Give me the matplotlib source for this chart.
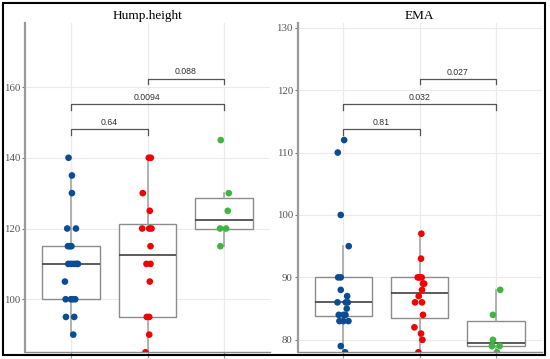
import matplotlib
matplotlib.use("Agg")
import matplotlib.pyplot as plt
from matplotlib.patches import Rectangle
import numpy as np

# ---------------- data ----------------
groups = [1, 2, 3]
colors = ["#0b4c94", "#f50000", "#3fb63f"]

hump_g1 = [140, 135, 130, 120, 120, 115, 115, 115, 110, 110, 110, 110, 110, 105, 100, 100, 100, 100, 95, 95, 90]
hump_g1_jit = [-2.4, 1, 1, -3.7, 5, -3, -1, 0.5, -2.7, 0, 2.7, 5.3, 7, -6, -5.3, 0, 2, 4.3, -5, 3.3, 2.3]
hump_g2 = [140, 140, 130, 125, 120, 120, 120, 115, 110, 110, 105, 95, 95, 90, 85, 80]
hump_g2_jit = [1.3, 3.3, -4.7, 2.3, -5.3, 1.7, 4, 3, -1, 3, 2.3, -0.7, 1.7, 1.7, -2, 0]
hump_g3 = [145, 130, 125, 120, 120, 115]
hump_g3_jit = [-3.3, 4.7, 3.7, -4, 2, -3.7]

ema_g1 = [112, 110, 100, 95, 90, 90, 88, 87, 86, 86, 86, 85, 84, 84, 84, 83, 83, 83, 79, 78]
ema_g1_jit = [0.7, -5.7, -2.7, 5.3, -5.3, -2.7, -2.7, 3.7, -6, 2.3, 4.3, 3.3, -4.7, 0, 2, -4, 0, 5, -2.7, 1.7]
ema_g2 = [97, 93, 90, 90, 90, 89, 89, 88, 87, 86, 86, 84, 82, 81, 80, 78]
ema_g2_jit = [1.7, 1.3, -2, 0, 2, 3.3, 4.5, 2.3, -1, -4.7, 2.3, 3.3, -5.3, 1.3, 2.7, -1.3]
ema_g3 = [88, 84, 80, 79, 79, 78]
ema_g3_jit = [4.3, -3, -3, -4, 3.7, 1]

hump_pairs = [(1, 2), (1, 3), (2, 3)]
hump_pvals = ["0.64", "0.0094", "0.088"]
hump_label_y = [148.2, 155.2, 162.4]

ema_pairs = [(1, 2), (1, 3), (2, 3)]
ema_pvals = ["0.81", "0.032", "0.027"]
ema_label_y = [113.7, 117.7, 121.8]

panels = [
    dict(title="Hump.height", data=[hump_g1, hump_g2, hump_g3],
         jit=[hump_g1_jit, hump_g2_jit, hump_g3_jit],
         pairs=hump_pairs, pvals=hump_pvals, ly=hump_label_y,
         yticks=[100, 120, 140, 160], ylim=(85, 178.1), tick_h=1.65,
         pos=[25 / 550, (359 - 352.3) / 359, 245 / 550, 329.3 / 359]),
    dict(title="EMA", data=[ema_g1, ema_g2, ema_g3],
         jit=[ema_g1_jit, ema_g2_jit, ema_g3_jit],
         pairs=ema_pairs, pvals=ema_pvals, ly=ema_label_y,
         yticks=[80, 90, 100, 110, 120, 130], ylim=(78.0, 130.75), tick_h=0.9,
         pos=[297.7 / 550, (359 - 352.3) / 359, 244 / 550, 329.3 / 359]),
]

fig = plt.figure(figsize=(5.5, 3.59), dpi=100)
fig.patch.set_facecolor("white")

px_per_unit = 76.5

for p in panels:
    ax = fig.add_axes(p["pos"])
    ax.set_xlim(0.4, 3.6)
    ax.set_ylim(*p["ylim"])
    ax.set_facecolor("white")
    ax.set_axisbelow(True)
    ax.set_yticks(p["yticks"])
    ax.set_xticks(groups)
    ax.grid(True, color="#ebebeb", linewidth=0.8)
    for s in ["top", "right"]:
        ax.spines[s].set_visible(False)
    ax.spines["left"].set_color("#9a9a9a")
    ax.spines["left"].set_linewidth(1.6)
    ax.spines["bottom"].set_color("#8a8a8a")
    ax.spines["bottom"].set_linewidth(1.0)
    ax.tick_params(axis="y", direction="out", length=2.5, width=0.8, color="#777777",
                   labelsize=7.8, labelcolor="#555555", pad=1)
    ax.tick_params(axis="x", direction="out", length=4, width=0.8, color="#999999",
                   labelbottom=False)
    for lbl in ax.get_yticklabels():
        lbl.set_family("Liberation Serif")

    bp = ax.boxplot(p["data"], positions=groups, widths=0.75, whis=1.5,
                    showfliers=False, patch_artist=True, zorder=2,
                    boxprops=dict(facecolor="white", edgecolor="#8c8c8c", linewidth=1.0),
                    medianprops=dict(color="#404040", linewidth=1.2),
                    whiskerprops=dict(color="#a6a6a6", linewidth=1.2),
                    capprops=dict(linewidth=0))

    for g, vals, jit, c in zip(groups, p["data"], p["jit"], colors):
        xs = [g + j / px_per_unit for j in jit]
        ax.scatter(xs, vals, s=23, color=c, edgecolors="none", zorder=3)

    for (a, b), lab, y in zip(p["pairs"], p["pvals"], p["ly"]):
        h = p["tick_h"]
        ax.plot([a, a, b, b], [y - h, y, y, y - h], color="#555555", linewidth=0.9,
                zorder=4, clip_on=False)
        ax.annotate(lab, xy=((a + b) / 2, y), xytext=(0, 1.5), textcoords="offset points",
                    ha="center", va="bottom", fontsize=6.3, color="#333333",
                    family="Liberation Sans")

    ax.set_title(p["title"], fontsize=9.5, family="Liberation Serif", color="black", pad=3)

# figure border
fig.patches.append(Rectangle((3 / 550, (359 - 354.7) / 359), 542 / 550, (354.7 - 3) / 359,
                             transform=fig.transFigure, fill=False, edgecolor="black",
                             linewidth=1.5, zorder=10))

fig.savefig("out.png", dpi=100)
